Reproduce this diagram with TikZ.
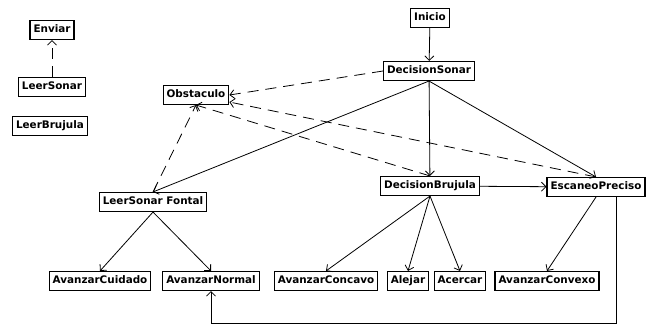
\documentclass[tikz,border=0pt]{standalone}
\usepackage{fontspec}
\setmainfont{DejaVu Sans}
\usetikzlibrary{arrows.meta, positioning}

\begin{document}
\begin{tikzpicture}[
    x=1pt, y=1pt,
    state/.style={rectangle, draw=black, line width=1.1pt, fill=white, inner xsep=3.5pt, inner ysep=0pt, minimum height=19pt, text height=7.6pt, text depth=2.2pt, font=\fontsize{10.4}{12}\selectfont\bfseries},
    arrow/.style={-{Straight Barb[length=4.5pt,width=9pt]}, line width=0.8pt},
    dasharrow/.style={arrow, dash pattern=on 11pt off 7pt}
]
\fill[white] (0,0) rectangle (652,326);
\useasboundingbox (0,0) rectangle (652,326);

\node[state] (enviar) at (52,296) {Enviar};
\node[state] (leersonar) at (52,239) {LeerSonar};
\node[state] (leerbrujula) at (50,200) {LeerBrujula};
\node[state] (inicio) at (430,308) {Inicio};
\node[state] (decsonar) at (429,255) {DecisionSonar};
\node[state] (obstaculo) at (196,231) {Obstaculo};
\node[state] (leerfontal) at (153,124) {LeerSonar Fontal};
\node[state] (decbrujula) at (430,140) {DecisionBrujula};
\node[state] (escaneo) at (596,139) {EscaneoPreciso};
\node[state] (cuidado) at (100,45) {AvanzarCuidado};
\node[state] (normal) at (211,45) {AvanzarNormal};
\node[state] (concavo) at (326,45) {AvanzarConcavo};
\node[state] (alejar) at (408,45) {Alejar};
\node[state] (acercar) at (460,45) {Acercar};
\node[state] (convexo) at (547,45) {AvanzarConvexo};
\coordinate (vuelta) at (616,3);

\draw[dasharrow] (leersonar) -- (enviar);
\draw[arrow] (inicio) -- (decsonar);
\draw[arrow] (decsonar.south) -- (leerfontal.north);
\draw[arrow] (decsonar) -- (decbrujula);
\draw[arrow] (decsonar.south) -- (escaneo.north);
\draw[dasharrow] (decsonar.west) -- (obstaculo.east);
\draw[dasharrow] (decbrujula.north) -- (obstaculo.south);
\draw[dasharrow] (escaneo.north) -- ([yshift=3pt]obstaculo.south east);
\draw[dasharrow] (leerfontal.north) -- (obstaculo.south);
\draw[arrow] (decbrujula) -- (escaneo);
\draw[arrow] (leerfontal.south) -- (cuidado.north);
\draw[arrow] (leerfontal.south) -- (normal.north);
\draw[arrow] (decbrujula.south) -- (concavo.north);
\draw[arrow] (decbrujula.south) -- (alejar.north);
\draw[arrow] (decbrujula.south) -- (acercar.north);
\draw[arrow] (escaneo.south) -- (convexo.north);
\draw[arrow] (escaneo.south -| vuelta) -- (vuelta) -| (normal.south);

\end{tikzpicture}
\end{document}
